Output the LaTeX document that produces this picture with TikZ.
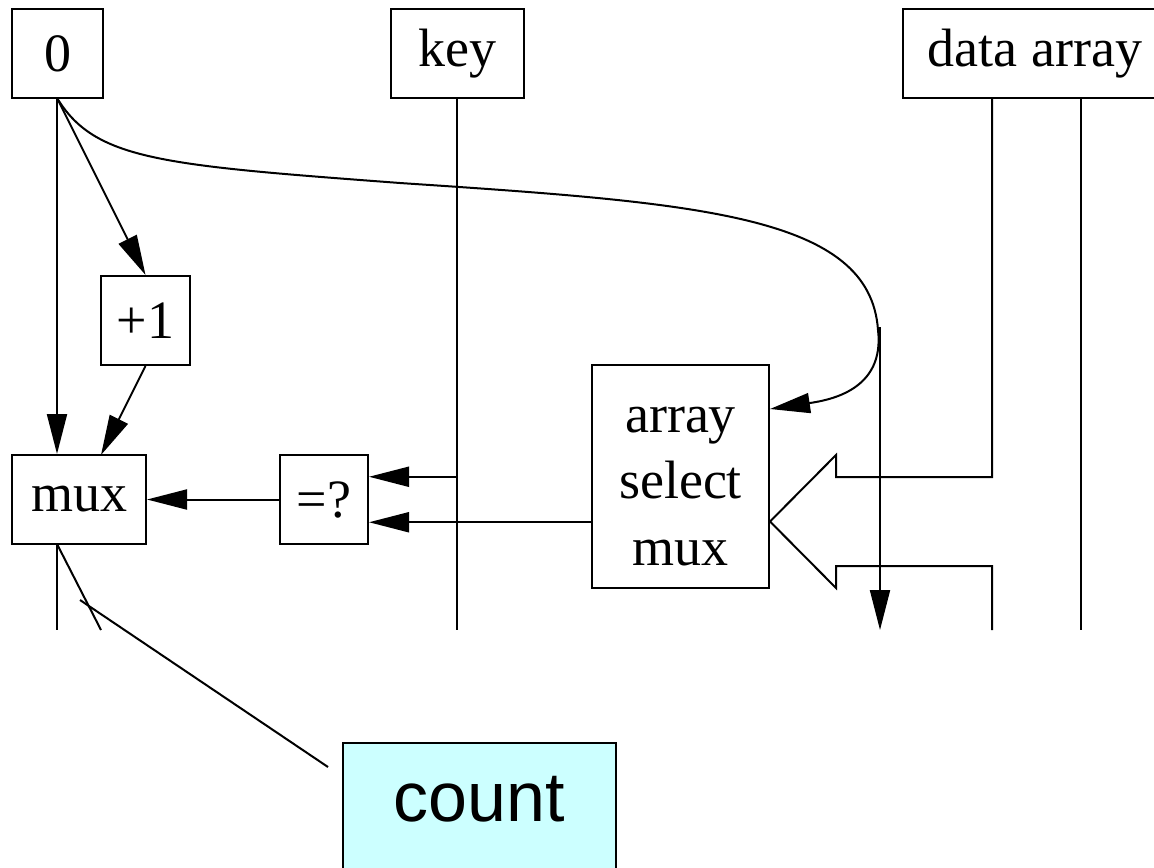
\documentclass[tikz,border=0pt]{standalone}
\usepackage{fontspec}
\setmainfont{Liberation Serif}
\newfontfamily\notefont{Liberation Sans}
\usetikzlibrary{arrows.meta,calc}
\tikzset{
  box/.style={draw,line width=1pt,inner sep=0pt,minimum height=44.5pt,
    font=\fontsize{27}{33.25}\selectfont},
  wire/.style={line width=1pt},
  flow/.style={wire,-{Triangle[length=20pt,width=10pt]}}
}
\begin{document}
\begin{tikzpicture}[x=0.5pt,y=-0.5pt]
  \useasboundingbox (0,0) rectangle (1154,867);
  \begin{scope}
    \clip (0,0) rectangle (1154,867);
    \node[box,minimum width=45.5pt] (zero) at (57.5,53.5) {0};
    \node[box,minimum width=66.5pt] (key) at (457,53.5) {key};
    \node[box,minimum width=132pt] (data) at (1035,53.5) {data array};
    \node[box,minimum width=44.5pt] (plusone) at (145.5,320.5) {+1};
    \node[box,minimum width=67pt] (mux) at (79,499.5) {mux};
    \node[box,minimum width=44pt] (eq) at (324,499.5) {=?};
    \node[box,minimum width=88.5pt,minimum height=111.5pt,
      text height=20pt,text depth=64.5pt] (asel) at (680.5,476.5)
      {\begin{tabular}[t]{@{}c@{}}array\\select\\mux\end{tabular}};
    \node[draw,line width=1pt,fill={rgb,255:red,204;green,255;blue,255},anchor=north,
      minimum width=136.5pt,inner sep=0pt,text height=39pt,text depth=40pt,
      font=\notefont\fontsize{35}{40}\selectfont] (count) at (479.5,742) {count};
  \end{scope}

  \coordinate (fork) at (57,98);
  \coordinate (muxin) at (101,455);
  \coordinate (selin) at ($(asel.north east)!0.2!(asel.south east)$);
  \coordinate (eqtop) at ($(eq.north east)!0.25!(eq.south east)$);
  \coordinate (eqbot) at ($(eq.north east)!0.75!(eq.south east)$);
  \coordinate (tip) at ($(asel.north east)!0.7!(asel.south east)$);
  \coordinate (dataA) at (992,98);
  \coordinate (dataB) at (1081,98);
  \coordinate (outA) at (57,544);

  \draw[flow] (fork) -- (fork |- mux.north);
  \draw[flow] (fork) -- (plusone.north);
  \draw[flow] (plusone.south) -- (muxin);
  \draw[flow] (fork) .. controls (95,160) and (160,165) .. (400,183)
    .. controls (700,203) and (870,215) .. (878,330)
    .. controls (885,390) and (830,400) .. (selin);
  \draw[wire] (key.south) -- (457,630);
  \draw[flow] (key.south |- eqtop) -- (eqtop);
  \draw[flow] (eqbot -| asel.west) -- (eqbot);
  \draw[flow] (eq.west) -- (mux.east);
  \draw[wire] (dataA) -- (992,477) -- (836,477) -- (836,455) -- (tip)
    -- (836,588) -- (836,566) -- (992,566) -- (992,630);
  \draw[wire] (dataB) -- (1081,630);
  \draw[flow] (880,327) -- (880,630);
  \draw[wire] (outA) -- (57,630);
  \draw[wire] (outA) -- (101,630);
  \draw[wire] (80,600) -- (328,767);
\end{tikzpicture}
\end{document}
